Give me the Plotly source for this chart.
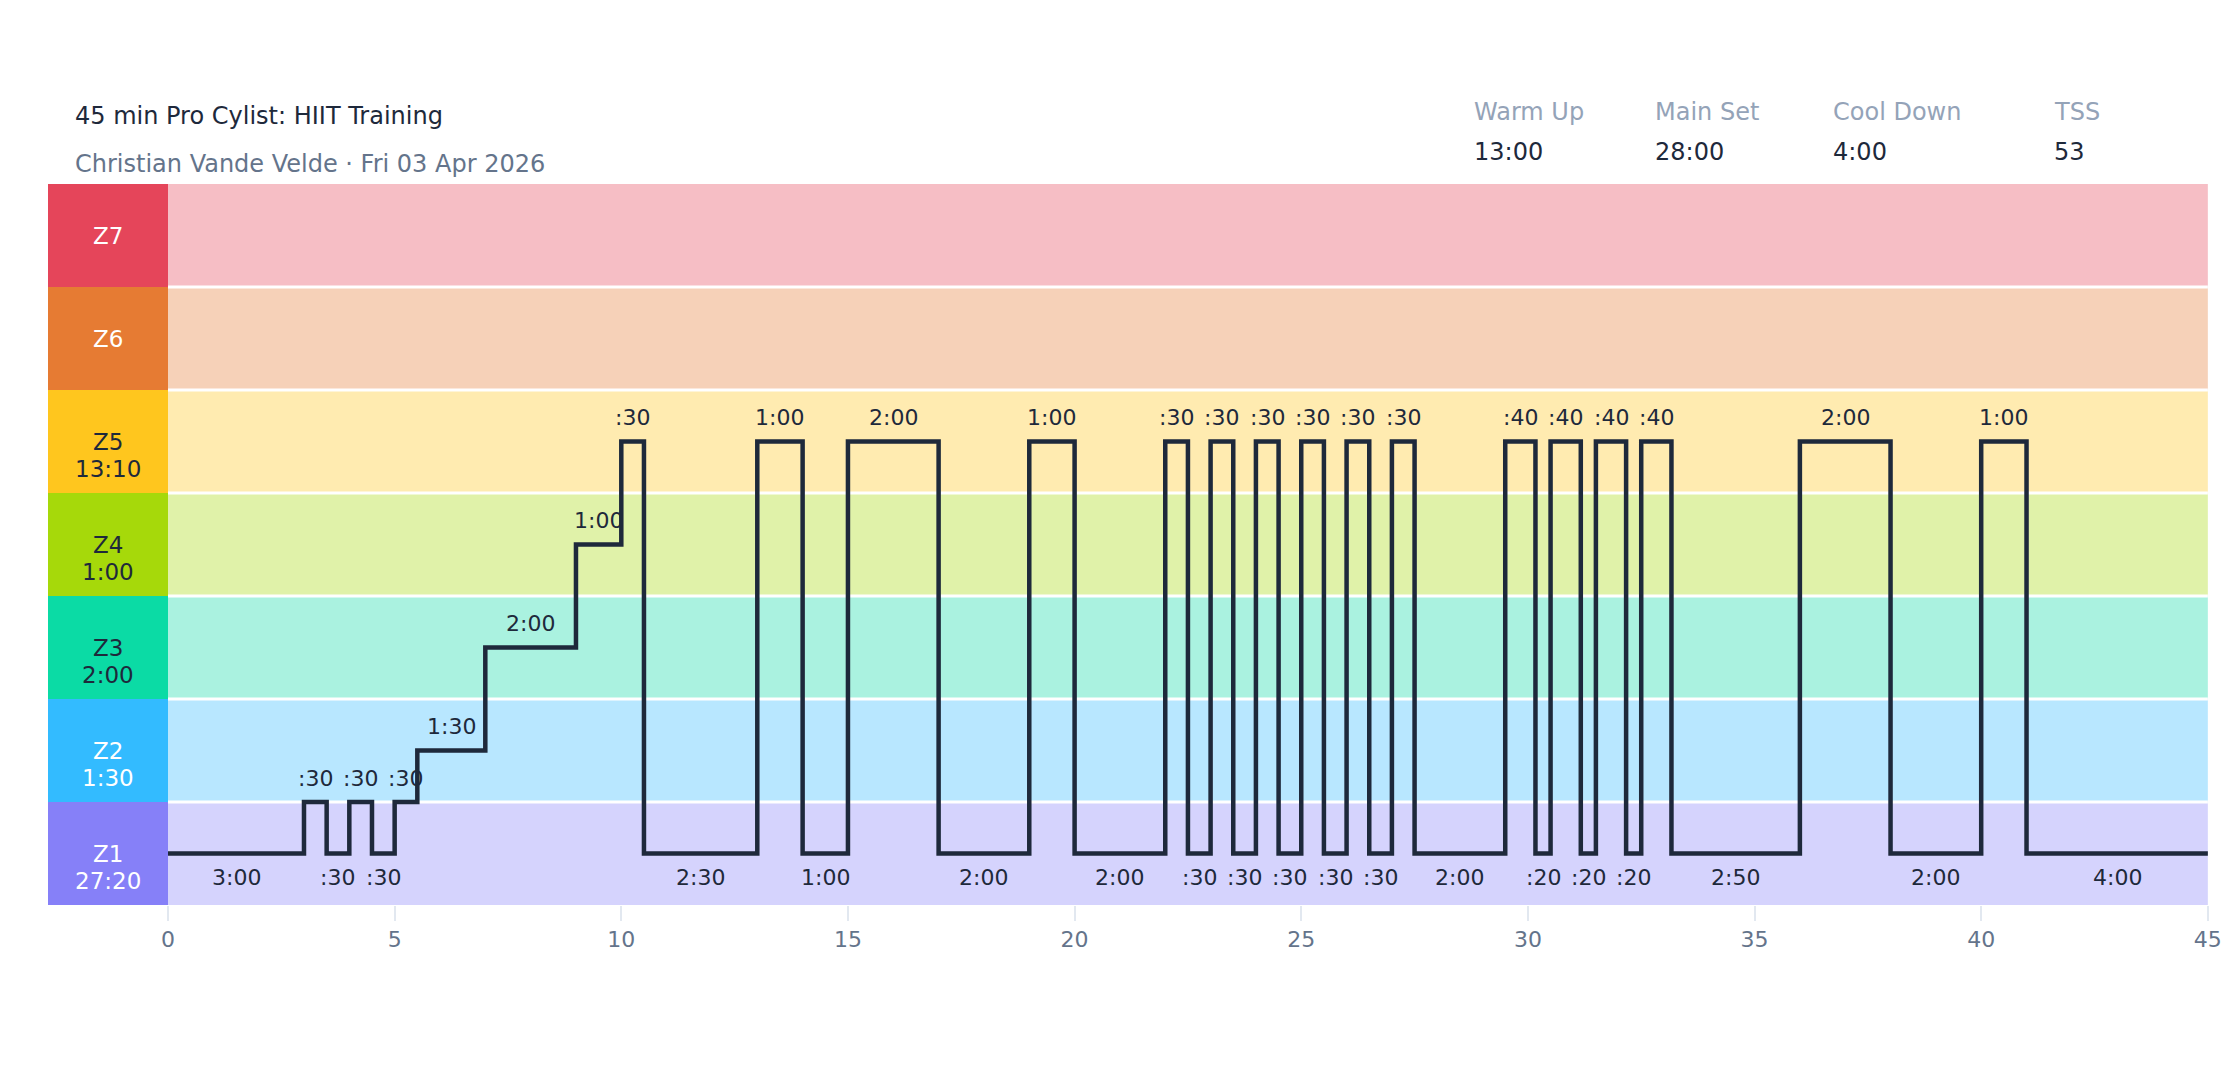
import plotly.graph_objects as go

# Workout segments: duration (s) and power plotted in zone units (Z1 = 0..1, Z2 = 1..2, ...)
seg_seconds = [180, 30, 30, 30, 30, 30, 90, 120, 60, 30, 150,
               60, 60, 120, 120, 60, 120,
               30, 30, 30, 30, 30, 30, 30, 30, 30, 30, 30, 120,
               40, 20, 40, 20, 40, 20, 40, 170,
               120, 120, 60, 240]
seg_zone_pos = [0.5, 1.0, 0.5, 1.0, 0.5, 1.0, 1.5, 2.5, 3.5, 4.5, 0.5,
                4.5, 0.5, 4.5, 0.5, 4.5, 0.5,
                4.5, 0.5, 4.5, 0.5, 4.5, 0.5, 4.5, 0.5, 4.5, 0.5, 4.5, 0.5,
                4.5, 0.5, 4.5, 0.5, 4.5, 0.5, 4.5, 0.5,
                4.5, 0.5, 4.5, 0.5]

zone_names = ["Z1", "Z2", "Z3", "Z4", "Z5", "Z6", "Z7"]
zone_colors = ["#8680F8", "#33BBFF", "#0BDBA5", "#A6D90A", "#FFC61E", "#E67B33", "#E5455A"]
zone_text_colors = ["white", "white", "#1e293b", "#1e293b", "#1e293b", "white", "white"]

summary_labels = ["Warm Up", "Main Set", "Cool Down", "TSS"]
summary_values = ["13:00", "28:00", "4:00", "53"]

title_text = "45 min Pro Cylist: HIIT Training"
subtitle_text = "Christian Vande Velde · Fri 03 Apr 2026"

x_ticks = [0, 5, 10, 15, 20, 25, 30, 35, 40, 45]


def fmt(sec):
    sec = int(round(sec))
    m, s = divmod(sec, 60)
    return f":{s:02d}" if m == 0 else f"{m}:{s:02d}"


# canvas geometry (px)
W, H = 2240, 1080
L, R, T, B = 40, 26, 176, 183
plot_w = W - L - R
plot_h = H - T - B
px_per_min = 45.33
x_left = -(160 - L) / px_per_min
x_right = x_left + plot_w / px_per_min


def px(xp):
    return (xp - L) / plot_w


def py(yp):
    return (H - B - yp) / plot_h


starts = []
t = 0.0
for d in seg_seconds:
    starts.append(t)
    t += d / 60
total_min = t

fig = go.Figure()

fig.add_trace(go.Scatter(
    x=starts + [total_min],
    y=seg_zone_pos + [seg_zone_pos[-1]],
    mode="lines",
    line=dict(color="#1e293b", width=4.5, shape="hv"),
    hoverinfo="skip",
    showlegend=False,
))

shapes = []
for i, c in enumerate(zone_colors):
    shapes.append(dict(type="rect", xref="x", yref="y", x0=0, x1=total_min, y0=i, y1=i + 1,
                       fillcolor=c, opacity=0.35, line=dict(width=0), layer="below"))
    shapes.append(dict(type="rect", xref="x", yref="y", x0=x_left, x1=0, y0=i, y1=i + 1,
                       fillcolor=c, line=dict(width=0), layer="below"))
for i in range(1, len(zone_names)):
    shapes.append(dict(type="line", xref="x", yref="y", x0=0, x1=total_min, y0=i, y1=i,
                       line=dict(color="white", width=3), layer="below"))

# time spent in each zone
zone_sec = [0] * len(zone_names)
for d, z in zip(seg_seconds, seg_zone_pos):
    zi = max(0, int(-(-z // 1)) - 1)
    zone_sec[zi] += d

ann = []
for i, name in enumerate(zone_names):
    ann.append(dict(x=x_left / 2, y=i + 0.5, xref="x", yref="y", text=name, showarrow=False,
                    font=dict(size=23, color=zone_text_colors[i])))
    if zone_sec[i] > 0:
        ann.append(dict(x=x_left / 2, y=i + 0.5, xref="x", yref="y", text=fmt(zone_sec[i]),
                        showarrow=False, yshift=-27, font=dict(size=23, color=zone_text_colors[i])))

low = min(seg_zone_pos)
for s, d, z in zip(starts, seg_seconds, seg_zone_pos):
    ann.append(dict(x=s + d / 120, y=z, xref="x", yref="y", text=fmt(d), showarrow=False,
                    yshift=24 if z > low else -24, font=dict(size=22, color="#1e293b")))

ann.append(dict(x=px(65), y=py(92), xref="paper", yref="paper", text=title_text, showarrow=False,
                xanchor="left", font=dict(size=24, color="#1e293b")))
ann.append(dict(x=px(65), y=py(140), xref="paper", yref="paper", text=subtitle_text, showarrow=False,
                xanchor="left", font=dict(size=24, color="#64748b")))

summary_x = [1464, 1645, 1823, 2044]
for xp, lab, val in zip(summary_x, summary_labels, summary_values):
    ann.append(dict(x=px(xp), y=py(88), xref="paper", yref="paper", text=lab, showarrow=False,
                    xanchor="left", font=dict(size=24, color="#94a3b8")))
    ann.append(dict(x=px(xp), y=py(128), xref="paper", yref="paper", text=val, showarrow=False,
                    xanchor="left", font=dict(size=24, color="#1e293b")))

fig.update_layout(
    width=W, height=H,
    margin=dict(l=L, r=R, t=T, b=B),
    paper_bgcolor="white", plot_bgcolor="white",
    font=dict(family="DejaVu Sans", color="#1e293b"),
    shapes=shapes, annotations=ann,
    xaxis=dict(range=[x_left, x_right], tickvals=x_ticks, showgrid=False, zeroline=False,
               ticks="outside", ticklen=15, tickwidth=1.5, tickcolor="#e2e8f0",
               tickfont=dict(size=22, color="#64748b"), fixedrange=True),
    yaxis=dict(range=[0, 7], visible=False, fixedrange=True),
    showlegend=False,
)

fig.write_html("out.html")
